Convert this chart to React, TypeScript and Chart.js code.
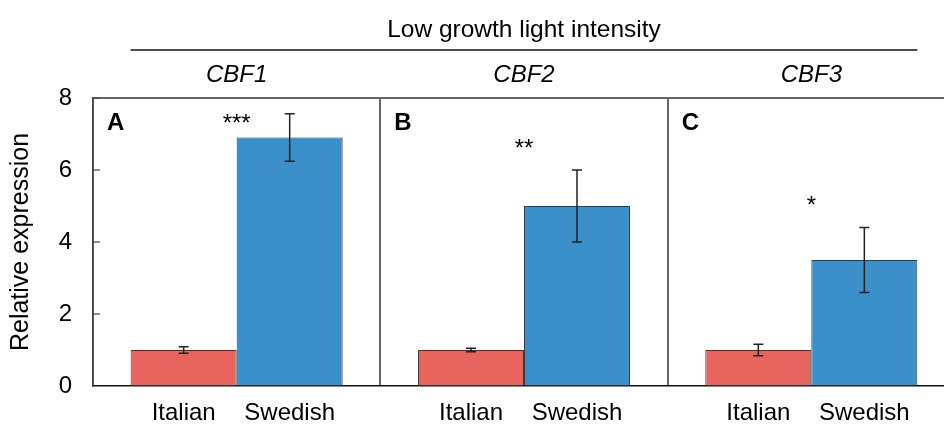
import React, { useEffect, useRef } from "react";
import { Chart, registerables } from "chart.js";

Chart.register(...registerables);

const genes = ["CBF1", "CBF2", "CBF3"];
const panelLetters = ["A", "B", "C"];
const seriesNames = ["Italian", "Swedish"];
const italianValues = [1.0, 1.0, 1.0];
const italianErrors = [0.09, 0.05, 0.16];
const swedishValues = [6.9, 5.0, 3.5];
const swedishErrors = [0.66, 1.0, 0.9];
const sigLabels = ["***", "**", "*"];
const sigHeights = [7.47, 6.76, 5.19];
const yTicks = [0, 2, 4, 6, 8];
const headerTitle = "Low growth light intensity";
const yTitle = "Relative expression";

const FONT = "'Liberation Sans', Arial, sans-serif";

const overlayPlugin = {
  id: "overlay",
  afterDraw(chart: any) {
    const ctx = chart.ctx;
    const area = chart.chartArea;
    const xs = chart.scales.x;
    const ys = chart.scales.y;
    const errs = [italianErrors, swedishErrors];
    ctx.save();

    // top frame border
    ctx.strokeStyle = "#666";
    ctx.lineWidth = 2;
    ctx.beginPath();
    ctx.moveTo(area.left, area.top);
    ctx.lineTo(area.right, area.top);
    ctx.stroke();

    // inward y tick marks
    ctx.strokeStyle = "#444";
    ctx.lineWidth = 1.2;
    yTicks.forEach((t) => {
      if (t === 0) return;
      const py = ys.getPixelForValue(t);
      ctx.beginPath();
      ctx.moveTo(area.left, py);
      ctx.lineTo(area.left + 7, py);
      ctx.stroke();
    });

    // error bars
    chart.data.datasets.forEach((ds: any, di: number) => {
      const meta = chart.getDatasetMeta(di);
      meta.data.forEach((bar: any, i: number) => {
        const v = ds.data[i];
        const e = errs[di][i];
        const x = bar.x;
        const yTop = ys.getPixelForValue(v + e);
        const yBot = ys.getPixelForValue(v - e);
        ctx.strokeStyle = "#222";
        ctx.lineWidth = 1.5;
        ctx.beginPath();
        ctx.moveTo(x, yTop);
        ctx.lineTo(x, yBot);
        ctx.moveTo(x - 5, yTop);
        ctx.lineTo(x + 5, yTop);
        ctx.moveTo(x - 5, yBot);
        ctx.lineTo(x + 5, yBot);
        ctx.stroke();
      });
    });

    ctx.fillStyle = "#000";
    // significance stars
    ctx.font = `24px ${FONT}`;
    ctx.textAlign = "center";
    ctx.textBaseline = "alphabetic";
    genes.forEach((g, i) => {
      const cx = xs.getPixelForValue(i);
      ctx.fillText(sigLabels[i], cx, ys.getPixelForValue(sigHeights[i]) + 13.5);
    });

    // gene names (italic)
    ctx.font = `italic 24px ${FONT}`;
    genes.forEach((g, i) => {
      ctx.fillText(g, xs.getPixelForValue(i), area.top - 16);
    });

    // panel letters
    ctx.font = `bold 24px ${FONT}`;
    ctx.textAlign = "left";
    const catW = (area.right - area.left) / genes.length;
    panelLetters.forEach((l, i) => {
      ctx.fillText(l, area.left + catW * i + 14, area.top + 32);
    });

    // x labels under bars
    ctx.font = `24px ${FONT}`;
    ctx.textAlign = "center";
    chart.data.datasets.forEach((ds: any, di: number) => {
      const meta = chart.getDatasetMeta(di);
      meta.data.forEach((bar: any) => {
        ctx.fillText(seriesNames[di], bar.x, area.bottom + 34);
      });
    });

    // header title and line
    const m0 = chart.getDatasetMeta(0).data[0];
    const m1 = chart.getDatasetMeta(1).data[genes.length - 1];
    const lx0 = m0.x - m0.width / 2;
    const lx1 = m1.x + m1.width / 2;
    ctx.font = `24.5px ${FONT}`;
    ctx.fillText(headerTitle, xs.getPixelForValue(1), area.top - 61);
    ctx.strokeStyle = "#111";
    ctx.lineWidth = 1.5;
    ctx.beginPath();
    ctx.moveTo(lx0, area.top - 48);
    ctx.lineTo(lx1, area.top - 48);
    ctx.stroke();

    // y title
    ctx.save();
    ctx.translate(21, (area.top + area.bottom) / 2);
    ctx.rotate(-Math.PI / 2);
    ctx.textAlign = "center";
    ctx.textBaseline = "middle";
    ctx.font = `25px ${FONT}`;
    ctx.fillText(yTitle, 0, 0);
    ctx.restore();

    ctx.restore();
  },
};

export default function App() {
  const ref = useRef<HTMLCanvasElement | null>(null);
  useEffect(() => {
    if (!ref.current) return;
    const chart = new Chart(ref.current, {
      type: "bar",
      data: {
        labels: genes,
        datasets: [
          {
            label: seriesNames[0],
            data: italianValues,
            backgroundColor: "#E8645F",
            borderColor: "#3a3a3a",
            borderWidth: 1,
            categoryPercentage: 0.738,
            barPercentage: 1.0,
          },
          {
            label: seriesNames[1],
            data: swedishValues,
            backgroundColor: "#3B90CA",
            borderColor: "#3a3a3a",
            borderWidth: 1,
            categoryPercentage: 0.738,
            barPercentage: 1.0,
          },
        ],
      },
      options: {
        animation: false,
        responsive: false,
        maintainAspectRatio: false,
        devicePixelRatio: 1,
        layout: { padding: { top: 98, right: 15, bottom: 0, left: 0 } },
        plugins: {
          legend: { display: false },
          tooltip: { enabled: false },
        },
        scales: {
          x: {
            type: "category",
            offset: true,
            ticks: { display: false },
            grid: {
              display: true,
              offset: true,
              drawTicks: false,
              color: "#666",
              lineWidth: 2,
            },
            border: { display: true, color: "#111", width: 1.5 },
            afterFit: (s: any) => {
              s.height = 38;
            },
          },
          y: {
            min: 0,
            max: 8,
            ticks: {
              stepSize: 2,
              color: "#000",
              padding: 21,
              font: { family: FONT, size: 24 },
            },
            grid: { drawOnChartArea: false, drawTicks: false },
            border: { display: true, color: "#444", width: 1.5 },
            afterFit: (s: any) => {
              s.width = 93;
            },
          },
        },
      },
      plugins: [overlayPlugin],
    } as any);
    return () => chart.destroy();
  }, []);
  return (
    <div
      style={{
        position: "fixed",
        left: 0,
        top: 0,
        width: 944,
        height: 424,
        overflow: "hidden",
        background: "#fff",
      }}
    >
      <canvas ref={ref} width={970} height={424} style={{ width: 970, height: 424, display: "block" }} />
    </div>
  );
}
